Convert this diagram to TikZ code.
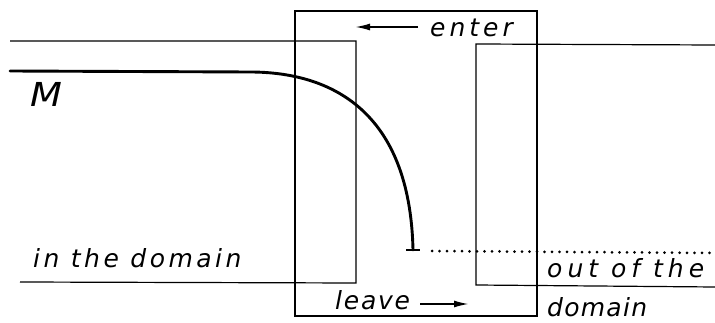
\documentclass[tikz,border=0pt]{standalone}
\usepackage{fontspec}
\setmainfont{DejaVu Sans}
\usetikzlibrary{arrows.meta}
\begin{document}
\begin{tikzpicture}[x=1pt,y=-1pt,
  thinline/.style={line width=1.2pt},
  trajectory/.style={line width=2.9pt},
  lbl/.style={anchor=base west,inner sep=0pt,font=\fontsize{25}{30}\selectfont\itshape},
  arr/.style={line width=1.8pt,-{Latex[length=15pt,width=7pt]}}]
\useasboundingbox (0,0) rectangle (715,323);
% outer rectangle
\draw[thinline] (295,11) rectangle (537,316);
% left domain boundary
\draw[thinline] (10,41) -- (356,41) -- (356,283) -- (20,282);
% right domain boundary
\draw[thinline] (715,45) -- (476,44) -- (476,285) -- (715,287);
% trajectory M
\coordinate (m0) at (10,71);
\coordinate (m1) at (250,72);
\coordinate (mend) at (413,250);
\draw[trajectory,line cap=round] (m0) -- (m1) .. controls (330,72) and (410,110) .. (mend);
\coordinate (tl) at (406,250);
\coordinate (tr) at (420,250);
\draw[line width=2.2pt] (tl) -- (tr);
\coordinate (d0) at (432,251);
\coordinate (d1) at (715,253);
\draw[line width=3pt,line cap=round,dash pattern=on 0pt off 7.5pt] (d0) -- (d1);
% labels
\node[lbl,font=\fontsize{33}{36}\selectfont\itshape,xscale=1.12] (M) at (30,107) {M};
\node[lbl] (enter) at (430,37) {\addfontfeature{LetterSpace=16}enter};
\node[lbl] (leave) at (335,309) {\addfontfeature{LetterSpace=7}leave};
\node[lbl] (inside) at (33,268) {\addfontfeature{LetterSpace=14}in the domain};
\node[lbl] (outside) at (547,277) {\addfontfeature{LetterSpace=20}out of the};
\node[lbl] (domain) at (547,316) {\addfontfeature{LetterSpace=5}domain};
% arrows
\coordinate (ea) at (418,27);
\coordinate (eb) at (355,27);
\draw[arr] (ea) -- (eb);
\coordinate (la) at (420,304);
\coordinate (lb) at (469,304);
\draw[arr] (la) -- (lb);
\end{tikzpicture}
\end{document}
